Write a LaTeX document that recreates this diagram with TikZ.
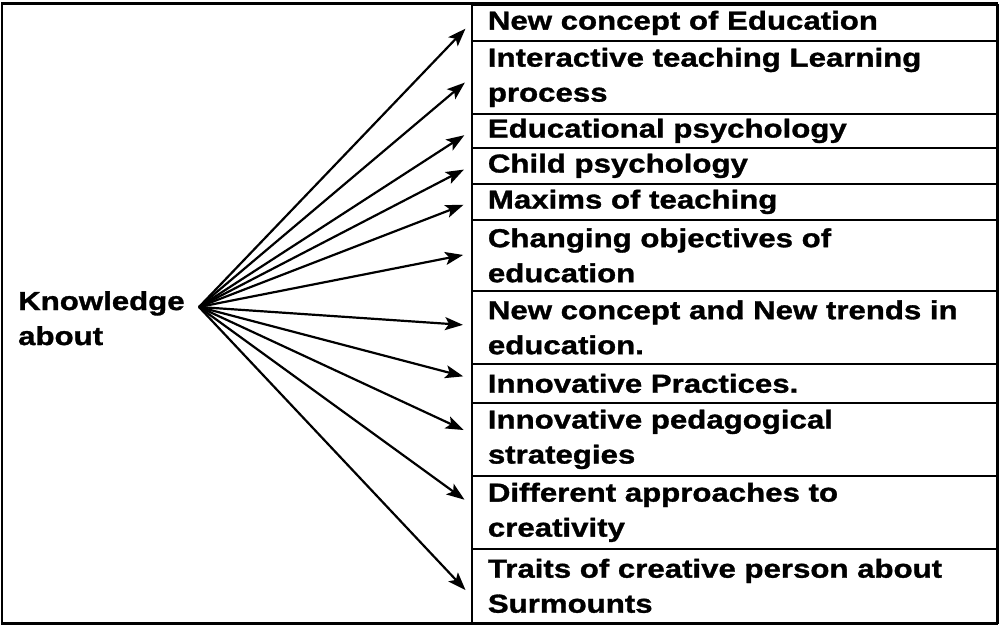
\documentclass[tikz,border=0pt]{standalone}
\usepackage{fontspec}
\setmainfont{Liberation Sans}[FakeStretch=1.2,FakeBold=1.2]
\usetikzlibrary{arrows.meta}
\begin{document}
\begin{tikzpicture}[x=1pt,y=-1pt,
  every node/.style={font=\fontsize{26}{35}\selectfont\bfseries},
  rowbox/.style={draw, line width=1.8pt, anchor=north west, minimum width=526pt,
    text width=494pt, inner xsep=16pt, inner ysep=0pt, align=left},
  conn/.style={line width=2.2pt, -{Stealth[length=18pt,width=13pt,inset=4pt]}, shorten >=8pt}
]
\useasboundingbox (0,0) rectangle (999,628);
\draw[line width=2.4pt] (2,3.5) rectangle (997,623.5);
\node[rowbox, minimum height=36pt] (b1) at (471,4) {New concept of Education};
\node[rowbox, minimum height=73pt] (b2) at (471,40) {Interactive teaching Learning\\process};
\node[rowbox, minimum height=34pt] (b3) at (471,113) {Educational psychology};
\node[rowbox, minimum height=36pt] (b4) at (471,147) {Child psychology};
\node[rowbox, minimum height=36pt] (b5) at (471,183) {Maxims of teaching};
\node[rowbox, minimum height=71pt] (b6) at (471,219) {Changing objectives of\\education};
\node[rowbox, minimum height=73pt] (b7) at (471,290) {New concept and New trends in\\education.};
\node[rowbox, minimum height=39pt] (b8) at (471,363) {Innovative Practices.};
\node[rowbox, minimum height=73pt] (b9) at (471,402) {Innovative pedagogical\\strategies};
\node[rowbox, minimum height=73pt] (b10) at (471,475) {Different approaches to\\creativity};
\node[rowbox, minimum height=74pt] (b11) at (471,548) {Traits of creative person about\\Surmounts};
\node[anchor=north west, inner sep=0pt, align=left] (kn) at (18,291) {Knowledge\\about};
\coordinate (hub) at (199,307);
\foreach \n/\s in {1/0,2/0,3/0,4/0,5/0,6/2,7/2,8/5,9/6,10/8,11/-10}
  \draw[conn] (hub) -- ([yshift=\s pt]b\n.west);
\end{tikzpicture}
\end{document}
